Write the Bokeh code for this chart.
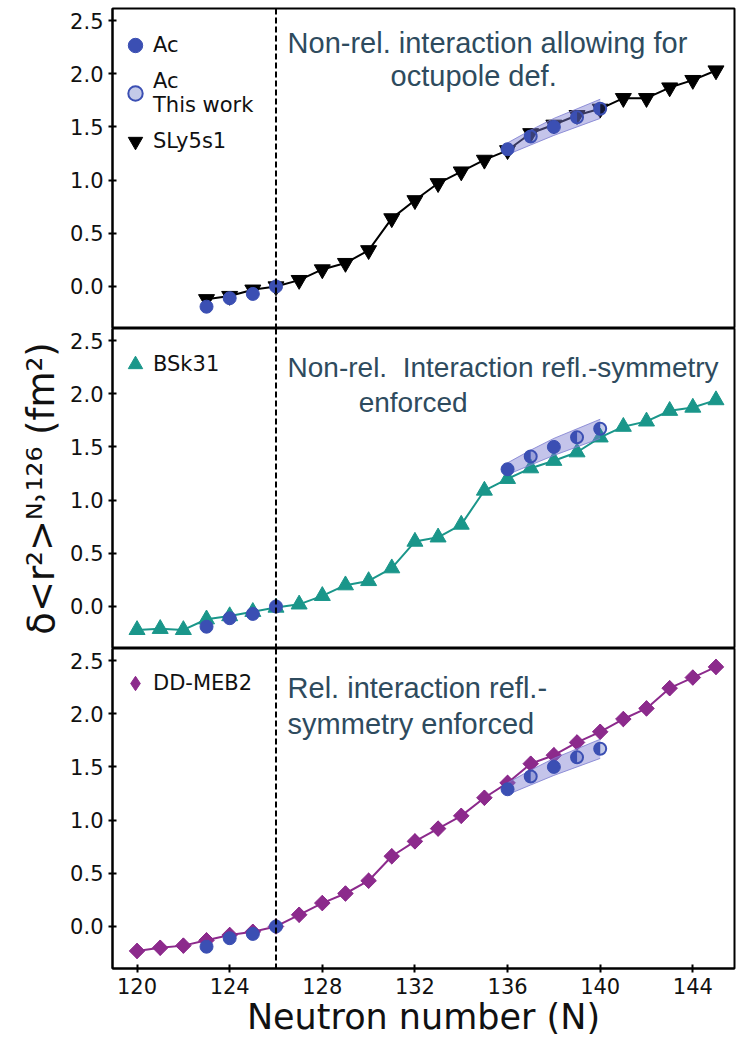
import math
from bokeh.plotting import figure
from bokeh.layouts import column
from bokeh.models import Span, Label, Legend, LegendItem, Range1d, FixedTicker, NumeralTickFormatter
from bokeh.embed import file_html
from bokeh.resources import INLINE

# ---------------- data ----------------
N_sly = list(range(123, 146))
sly5s1 = [-0.12, -0.09, -0.03, 0.00, 0.06, 0.16, 0.22, 0.34, 0.64, 0.81, 0.97, 1.08,
          1.19, 1.28, 1.44, 1.52, 1.61, 1.67, 1.77, 1.77, 1.87, 1.94, 2.03]

N_full = list(range(120, 146))
bsk31 = [-0.22, -0.21, -0.22, -0.12, -0.09, -0.05, -0.01, 0.02, 0.10, 0.20, 0.24, 0.36,
         0.61, 0.65, 0.77, 1.09, 1.20, 1.30, 1.37, 1.45, 1.59, 1.69, 1.74, 1.84, 1.87, 1.94]
ddmeb2 = [-0.23, -0.20, -0.18, -0.13, -0.08, -0.05, 0.00, 0.11, 0.22, 0.31, 0.43, 0.66,
          0.80, 0.92, 1.04, 1.21, 1.35, 1.53, 1.61, 1.73, 1.83, 1.95, 2.05, 2.24, 2.34, 2.44]

N_ac = [123, 124, 125, 126, 136, 138]
ac = [-0.19, -0.11, -0.07, 0.00, 1.29, 1.50]
N_tw = [137, 139, 140]
ac_tw = [1.41, 1.59, 1.67]

N_band = [136, 137, 138, 139, 140]
band_lo = [1.24, 1.33, 1.42, 1.50, 1.58]
band_hi = [1.35, 1.47, 1.58, 1.67, 1.76]

x_ticks = [120, 124, 128, 132, 136, 140, 144]
y_ticks = [0.0, 0.5, 1.0, 1.5, 2.0, 2.5]

AC_COL = "#3b4fb3"
TEAL = "#1a968a"
PURPLE = "#8c2a8c"
BLACK = "#000000"
TXT = "#2e4b5e"
BAND = "#7c7cd0"
FONT = "DejaVu Sans"
AFONT = "Liberation Sans"


def make_fig(height, top, bottom, show_x):
    p = figure(width=737, height=height,
               x_range=Range1d(118.94, 145.8), y_range=Range1d(-0.395, 2.613),
               output_backend="svg", toolbar_location=None,
               min_border_left=112, min_border_right=3,
               min_border_top=top, min_border_bottom=bottom)
    p.grid.visible = False
    p.outline_line_color = "black"
    p.outline_line_width = 2
    p.outline_line_alpha = 1.0
    p.background_fill_color = "white"
    p.yaxis.ticker = FixedTicker(ticks=y_ticks)
    p.yaxis.formatter = NumeralTickFormatter(format="0.0")
    p.yaxis.minor_tick_line_color = None
    p.yaxis.major_tick_in = 4
    p.yaxis.major_tick_out = 4
    p.yaxis.major_tick_line_width = 2
    p.yaxis.axis_line_width = 2
    p.yaxis.major_label_text_font = FONT
    p.yaxis.major_label_text_font_size = "21px"
    p.yaxis.major_label_text_color = "#111111"
    p.yaxis.major_label_standoff = 5
    if show_x:
        p.xaxis.ticker = FixedTicker(ticks=x_ticks)
        p.xaxis.minor_tick_line_color = None
        p.xaxis.major_tick_in = 4
        p.xaxis.major_tick_out = 4
        p.xaxis.major_tick_line_width = 2
        p.xaxis.axis_line_width = 2
        p.xaxis.major_label_text_font = FONT
        p.xaxis.major_label_text_font_size = "21px"
        p.xaxis.major_label_text_color = "#111111"
        p.xaxis.major_label_standoff = 5
        p.xaxis.axis_label = "Neutron number (N)"
        p.xaxis.axis_label_text_font = FONT
        p.xaxis.axis_label_text_font_size = "35px"
        p.xaxis.axis_label_text_font_style = "normal"
        p.xaxis.axis_label_text_color = "#111111"
        p.xaxis.axis_label_standoff = 0
    else:
        p.xaxis.visible = False
    p.add_layout(Span(location=126, dimension="height", line_color="black",
                      line_dash="6 3", line_width=2))
    return p


def add_ac(p):
    p.varea(x=N_band, y1=band_lo, y2=band_hi, fill_color=BAND, fill_alpha=0.45)
    p.line(N_band, band_lo, line_color=BAND, line_width=1, line_alpha=0.8)
    p.line(N_band, band_hi, line_color=BAND, line_width=1, line_alpha=0.8)
    r_ac = p.scatter(N_ac, ac, marker="circle", size=13, fill_color=AC_COL,
                     line_color=AC_COL, line_width=1)
    r_tw = p.scatter(N_tw, ac_tw, marker="circle", size=12, fill_color=AC_COL,
                     fill_alpha=0.3, line_color=AC_COL, line_width=2)
    p.wedge(x=N_tw, y=ac_tw, radius=6, radius_units="screen",
            start_angle=math.pi / 2, end_angle=3 * math.pi / 2,
            fill_color=AC_COL, line_color=None)
    return r_ac, r_tw


def style_legend(p, items, loc):
    leg = Legend(items=items, location=loc)
    leg.label_text_font = FONT
    leg.label_text_font_size = "21px"
    leg.label_text_color = "#111111"
    leg.glyph_width = 36
    leg.glyph_height = 40
    leg.label_standoff = 0
    leg.spacing = 4
    leg.margin = 0
    leg.padding = 3
    leg.border_line_color = None
    leg.background_fill_alpha = 0
    p.add_layout(leg)


def add_text(p, x, y, txt, size="29px"):
    p.add_layout(Label(x=x, y=y, text=txt, text_font=AFONT, text_font_size=size,
                       text_color=TXT, text_baseline="alphabetic", text_align="left"))


# ---------------- top panel: SLy5s1 ----------------
p1 = make_fig(328, 8, 0, False)
p1.line(N_sly, sly5s1, line_color=BLACK, line_width=2)
r_sly = p1.scatter(N_sly, sly5s1, marker="inverted_triangle", size=16,
                   fill_color=BLACK, line_color=BLACK)
r_ac1, r_tw1 = add_ac(p1)
style_legend(p1, [LegendItem(label="Ac", renderers=[r_ac1]),
                  LegendItem(label="Ac\nThis work", renderers=[r_tw1]),
                  LegendItem(label="SLy5s1", renderers=[r_sly])], (5, 167))
add_text(p1, 126.5, 2.29, "Non-rel. interaction allowing for")
add_text(p1, 130.95, 1.98, "octupole def.")

# ---------------- middle panel: BSk31 ----------------
p2 = make_fig(320, 0, 0, False)
p2.line(N_full, bsk31, line_color=TEAL, line_width=2)
r_bsk = p2.scatter(N_full, bsk31, marker="triangle", size=16,
                   fill_color=TEAL, line_color=TEAL)
add_ac(p2)
style_legend(p2, [LegendItem(label="BSk31", renderers=[r_bsk])], (5, 264))
add_text(p2, 126.5, 2.25, "Non-rel.\u00a0 Interaction refl.-symmetry", "28px")
add_text(p2, 129.57, 1.92, "enforced", "28px")
p2.yaxis.axis_label = "δ<r²>ᴺ˒¹²⁶ (fm²)"
p2.yaxis.axis_label_text_font = FONT
p2.yaxis.axis_label_text_font_size = "37px"
p2.yaxis.axis_label_text_font_style = "normal"
p2.yaxis.axis_label_text_color = "#111111"
p2.yaxis.axis_label_standoff = 4

# ---------------- bottom panel: DD-MEB2 ----------------
p3 = make_fig(392, 0, 72, True)
p3.line(N_full, ddmeb2, line_color=PURPLE, line_width=2)
r_dd_leg = p3.scatter(N_full, ddmeb2, marker="diamond", size=15,
                      fill_color=PURPLE, line_color=PURPLE)
p3.scatter(N_full, ddmeb2, marker="square", size=11, angle=math.pi / 4,
           fill_color=PURPLE, line_color=PURPLE)
add_ac(p3)
style_legend(p3, [LegendItem(label="DD-MEB2", renderers=[r_dd_leg])], (5, 265))
add_text(p3, 126.5, 2.24, "Rel. interaction refl.-")
add_text(p3, 126.5, 1.905, "symmetry enforced")

layout = column(p1, p2, p3, spacing=0)
open("out.html", "w").write(file_html(layout, INLINE))
